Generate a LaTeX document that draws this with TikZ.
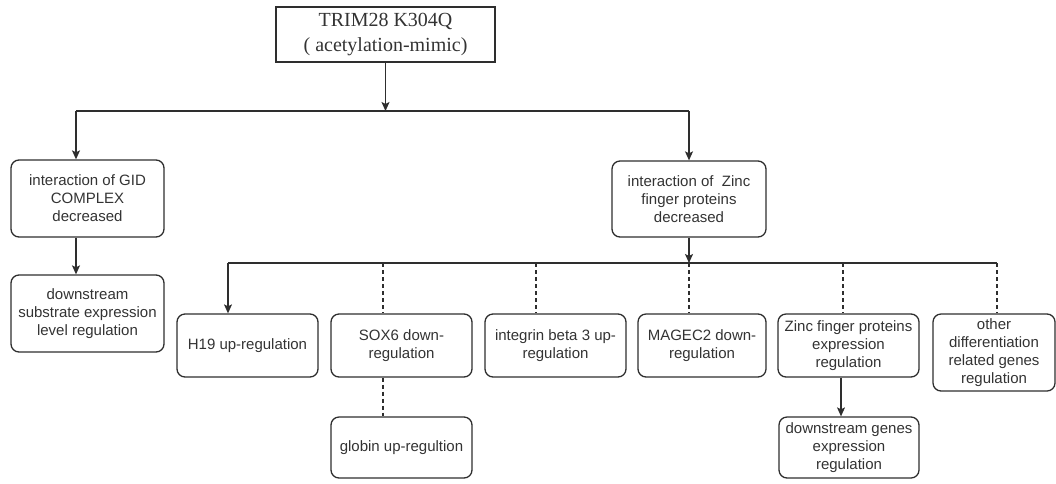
\documentclass[tikz,border=0pt]{standalone}
\usepackage{fontspec}
\setmainfont{Liberation Sans}
\newfontfamily\serifface{Liberation Serif}
\usetikzlibrary{arrows.meta}
\definecolor{ink}{HTML}{2E2E2E}
\definecolor{txt}{HTML}{333333}
\begin{document}
\begin{tikzpicture}[x=1pt,y=-1pt,
  box/.style={draw=ink, line width=1.3pt, rounded corners=8pt, align=center,
    font=\fontsize{15}{18}\selectfont, text=txt, inner sep=0pt},
  topbox/.style={draw=ink, line width=1.2pt, align=center,
    font=\serifface\fontsize{20}{25}\selectfont, text=txt, inner sep=0pt},
  link/.style={draw=ink, line width=1.2pt},
  arrowlink/.style={link, -{Stealth[length=9pt,width=8pt,inset=2pt]}},
  dashlink/.style={link, dash pattern=on 4pt off 3pt}]
\useasboundingbox (0,0) rectangle (1056,483);

% top node
\node[topbox, minimum width=219pt, minimum height=55pt] (top) at (385.5,34.5)
  {TRIM28 K304Q\\( acetylation-mimic)};

% first level
\node[box, minimum width=153pt, minimum height=77pt] (gid) at (87.5,198.5)
  {interaction of GID\\COMPLEX\\decreased};
\node[box, minimum width=153pt, minimum height=77pt] (sub) at (87.5,313.5)
  {downstream\\substrate expression\\level regulation};
\node[box, minimum width=154pt, minimum height=76pt] (zinc) at (689,199)
  {interaction of~ Zinc\\finger proteins\\decreased};

% second level
\node[box, minimum width=141pt, minimum height=63pt] (h19) at (247.5,345.5)
  {H19 up-regulation};
\node[box, minimum width=141pt, minimum height=63pt] (sox) at (401.5,345.5)
  {SOX6 down-\\regulation};
\node[box, minimum width=141pt, minimum height=63pt] (itg) at (555.5,345.5)
  {integrin beta 3 up-\\regulation};
\node[box, minimum width=128pt, minimum height=63pt] (mag) at (702,345.5)
  {MAGEC2 down-\\regulation};
\node[box, minimum width=141pt, minimum height=63pt] (zfe) at (848.5,345.5)
  {Zinc finger proteins\\expression\\regulation};
\node[box, minimum width=122pt, minimum height=77pt] (oth) at (994,352.5)
  {other\\differentiation\\related genes\\regulation};

% third level
\node[box, minimum width=141pt, minimum height=61pt] (glo) at (401.5,447.5)
  {globin up-regultion};
\node[box, minimum width=140pt, minimum height=61pt] (dsg) at (849,447.5)
  {downstream genes\\expression\\regulation};

% bus coordinates
\coordinate (b1m) at (385.5,111);
\coordinate (b1l) at (76,111);
\coordinate (b1r) at (689,111);
\coordinate (b2m) at (689,263);
\coordinate (b2a) at (228,263);
\coordinate (b2b) at (383,263);
\coordinate (b2c) at (536,263);
\coordinate (b2d) at (689,263);
\coordinate (b2e) at (843,263);
\coordinate (b2f) at (997,263);

% first split
\draw[arrowlink] (top.south) -- (b1m);
\draw[link] (b1l) -- (b1r);
\draw[arrowlink] (b1l) -- (b1l |- gid.north);
\draw[arrowlink] (b1r) -- (b1r |- zinc.north);
\draw[arrowlink] (b1l |- gid.south) -- (b1l |- sub.north);

% second split
\draw[arrowlink] (zinc.south) -- (b2m);
\draw[link] (b2a) -- (b2f);
\draw[arrowlink] (b2a) -- (b2a |- h19.north);
\draw[dashlink] (b2b) -- (b2b |- sox.north);
\draw[dashlink] (b2c) -- (b2c |- itg.north);
\draw[dashlink] (b2d) -- (b2d |- mag.north);
\draw[dashlink] (b2e) -- (b2e |- zfe.north);
\draw[dashlink] (b2f) -- (b2f |- oth.north);

% third level links
\draw[dashlink] (b2b |- sox.south) -- (b2b |- glo.north);
\draw[arrowlink] (841,0 |- zfe.south) -- (841,0 |- dsg.north);
\end{tikzpicture}
\end{document}
